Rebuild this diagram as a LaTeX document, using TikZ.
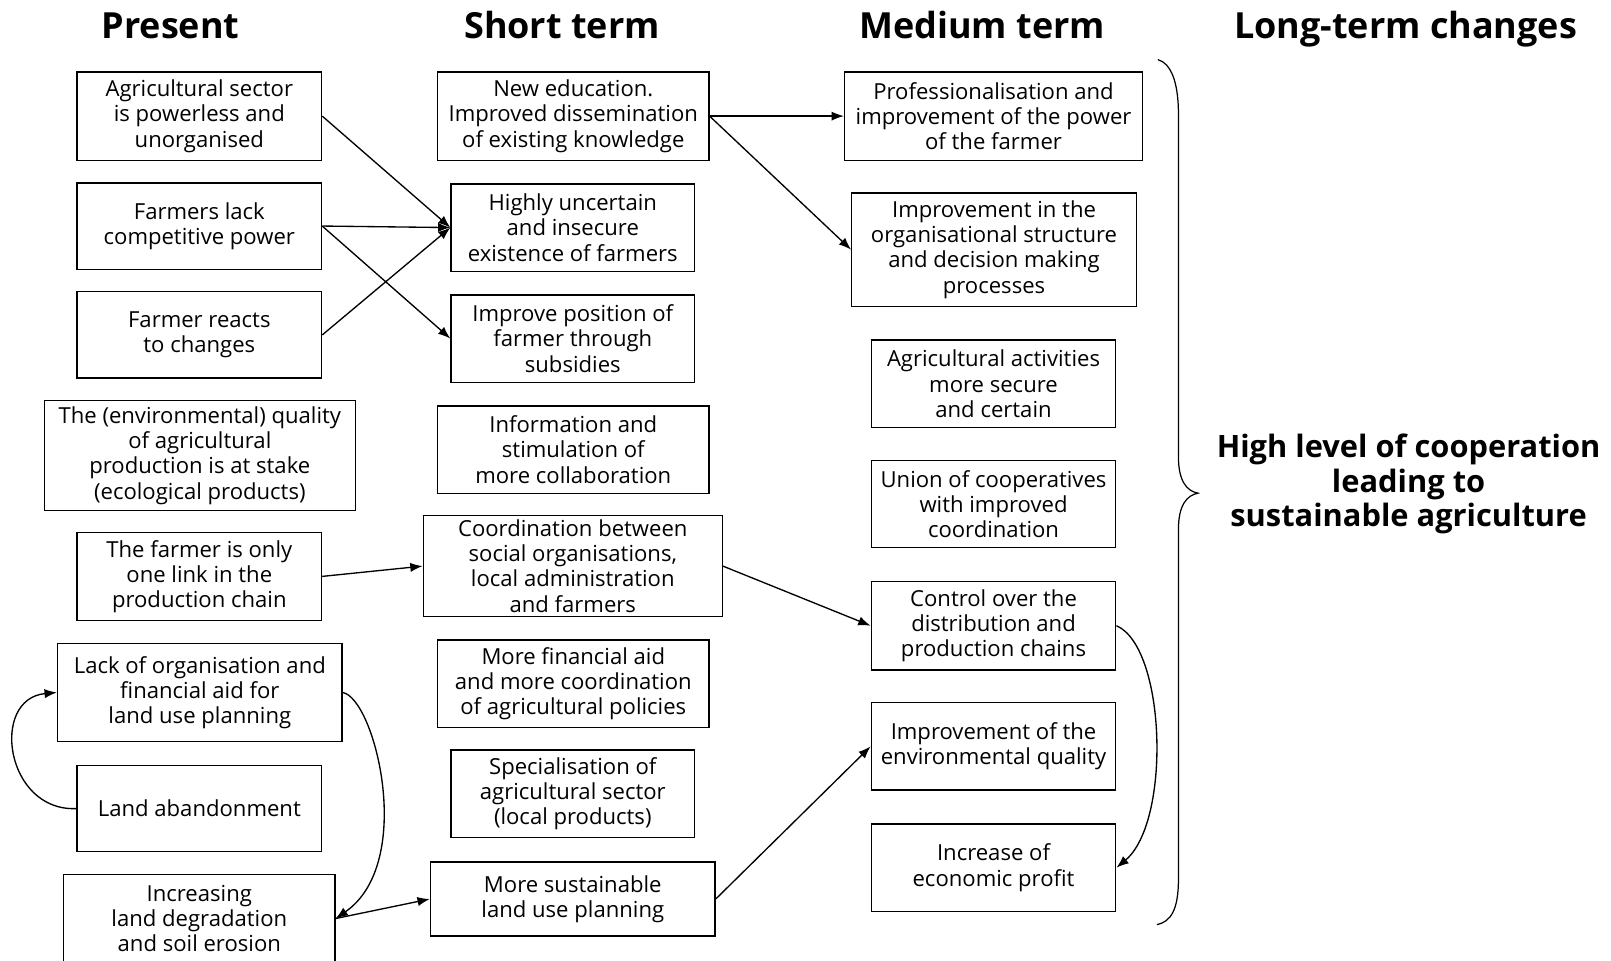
\documentclass[tikz,border=0pt]{standalone}
\usepackage{fontspec}
\setmainfont{Open Sans}
\usetikzlibrary{arrows.meta, positioning, calc}

\tikzset{
  box/.style={draw, line width=1.3pt, align=center, inner sep=2pt, font=\fontsize{21.5}{24.5}\selectfont},
  sz/.style 2 args={minimum width=#1pt, minimum height=#2pt},
  heading/.style={anchor=base, font=\fontsize{35}{38}\selectfont\bfseries},
  arr/.style={line width=1.3pt, -{Latex[length=12pt,width=9pt]}},
}

\begin{document}
\begin{tikzpicture}[x=1pt, y=-1pt]
  \useasboundingbox (0,0) rectangle (1568,935);

  % column headings
  \node[heading] (hpresent) at (166,37) {Present};
  \node[heading] (hshort) at (547,37) {Short term};
  \node[heading] (hmedium) at (956,37) {Medium term};
  \node[heading] (hlong) at (1368,37) {Long-term changes};

  % Present
  \node[box, sz={238}{86}] (p1) at (194,113) {Agricultural sector\\is powerless and\\unorganised};
  \node[box, sz={238}{84}] (p2) at (194,220) {Farmers lack\\competitive power};
  \node[box, sz={238}{84}] (p3) at (194,326) {Farmer reacts\\to changes};
  \node[box, sz={303}{107}] (p4) at (194.5,443.5) {The (environmental) quality\\of agricultural\\production is at stake\\(ecological products)};
  \node[box, sz={238}{86}] (p5) at (194,561) {The farmer is only\\one link in the\\production chain};
  \node[box, sz={277}{96}] (p6) at (194.5,674) {Lack of organisation and\\financial aid for\\land use planning};
  \node[box, sz={238}{84}] (p7) at (194,787) {Land abandonment};
  \node[box, sz={264}{86}] (p8) at (194,894) {Increasing\\land degradation\\and soil erosion};

  % Short term
  \node[box, sz={264}{86}] (s1) at (558,113) {New education.\\Improved dissemination\\of existing knowledge};
  \node[box, sz={237}{85}] (s2) at (557.5,221.5) {Highly uncertain\\and insecure\\existence of farmers};
  \node[box, sz={237}{85}] (s3) at (557.5,329.5) {Improve position of\\farmer through\\subsidies};
  \node[box, sz={264}{85}] (s4) at (558,437.5) {Information and\\stimulation of\\more collaboration};
  \node[box, sz={291}{98}] (s5) at (557.5,551) {Coordination between\\social organisations,\\local administration\\and farmers};
  \node[box, sz={264}{85}] (s6) at (558,665.5) {More financial aid\\and more coordination\\of agricultural policies};
  \node[box, sz={237}{85}] (s7) at (557.5,772.5) {Specialisation of\\agricultural sector\\(local products)};
  \node[box, sz={277}{72}] (s8) at (557.5,875) {More sustainable\\land use planning};

  % Medium term
  \node[box, sz={290}{86}] (m1) at (967,113) {Professionalisation and\\improvement of the power\\of the farmer};
  \node[box, sz={277}{110}] (m2) at (967.5,243) {Improvement in the\\organisational structure\\and decision making\\processes};
  \node[box, sz={238}{85}] (m3) at (967,373.5) {Agricultural activities\\more secure\\and certain};
  \node[box, sz={238}{85}] (m4) at (967,490.5) {Union of cooperatives\\with improved\\coordination};
  \node[box, sz={238}{86}] (m5) at (967,609) {Control over the\\distribution and\\production chains};
  \node[box, sz={238}{85}] (m6) at (967,726.5) {Improvement of the\\environmental quality};
  \node[box, sz={238}{85}] (m7) at (967,844.5) {Increase of\\economic profit};

  % Long term
  \node[font=\fontsize{30}{34}\selectfont\bfseries, align=center] (goal) at (1371,471) {High level of cooperation\\leading to\\sustainable agriculture};
  \draw[line width=1.2pt] (1127,58) .. controls (1140,62) and (1147,80) .. (1147,112) -- (1147,445)
    .. controls (1147,468) and (1155,478) .. (1166,480)
    .. controls (1155,482) and (1147,492) .. (1147,515) -- (1147,855)
    .. controls (1147,885) and (1140,897) .. (1126,900);

  % arrows
  \draw[arr] (p1.east) -- (s2.west);
  \draw[arr] (p2.east) -- (s2.west);
  \draw[arr] (p3.east) -- (s2.west);
  \draw[arr] (p2.east) -- (s3.west);
  \draw[arr] (s1.east) -- (m1.west);
  \draw[arr] (s1.east) -- (m2.west);
  \draw[arr] (p5.east) -- (s5.west);
  \draw[arr] (s5.east) -- (m5.west);
  \draw[arr] (s8.east) -- (m6.west);
  \draw[arr] (p8.east) -- (s8.west);
  \draw[arr] (p6.east) .. controls (365,680) and (405,840) .. (p8.east);
  \draw[arr] (p7.west) .. controls (5,790) and (-10,680) .. (p6.west);
  \draw[arr] (m5.east) .. controls (1135,630) and (1140,800) .. (m7.east);
\end{tikzpicture}
\end{document}
